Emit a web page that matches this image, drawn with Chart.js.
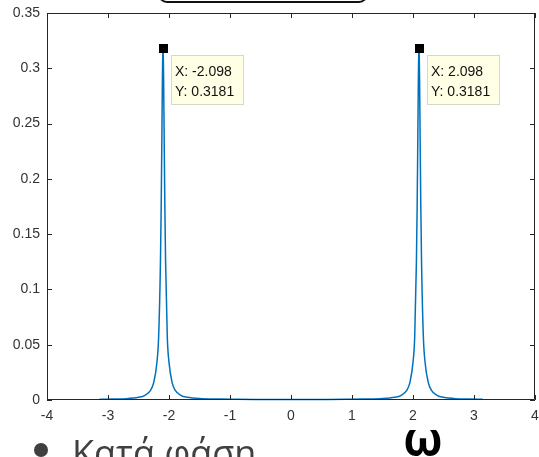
<!DOCTYPE html>
<html>
<head>
<meta charset="utf-8">
<script src="https://cdn.jsdelivr.net/npm/chart.js@4/dist/chart.umd.min.js"></script>
<style>
  body { margin: 0; background: #fff; width: 539px; height: 457px; overflow: hidden; position: relative; }
  #wrap { position: absolute; left: 0; top: 0; width: 539px; height: 457px; }
  .topbox { position: absolute; left: 158px; top: -30px; width: 206px; height: 29px; border: 2px solid #111; border-radius: 9px; }
  .bullet { position: absolute; left: 34px; top: 443px; width: 14px; height: 14px; border-radius: 50%; background: #404040; }
  .txt { position: absolute; left: 72px; top: 428px; font: 36px "Open Sans", "Noto Sans", sans-serif; color: #404040; white-space: nowrap; }
  .omega { position: absolute; left: 403px; top: 407px; font: bold 46px "Noto Sans", "DejaVu Sans", sans-serif; color: #000; }
</style>
</head>
<body>
<div id="wrap"><canvas id="c" width="539" height="457"></canvas></div>
<div class="topbox"></div>
<div class="bullet"></div>
<div class="txt">Κατά φάση</div>
<div class="omega">ω</div>
<script>
// frequency (rad/sample) and magnitude
const freq = [-3.1416, -2.9, -2.7, -2.5, -2.4, -2.3, -2.25, -2.2, -2.17, -2.14, -2.128, -2.118, -2.108, -2.103, -2.098,
  -2.093, -2.088, -2.078, -2.068, -2.056, -2.028, -2.0, -1.95, -1.9, -1.8, -1.7, -1.5, -1.2, -0.9, -0.6, -0.3, 0,
  0.3, 0.6, 0.9, 1.2, 1.5, 1.7, 1.8, 1.9, 1.95, 2.0, 2.028, 2.056, 2.068, 2.078, 2.088, 2.093, 2.098,
  2.103, 2.108, 2.118, 2.128, 2.14, 2.17, 2.2, 2.25, 2.3, 2.4, 2.5, 2.7, 2.9, 3.1416];
const mag = [0.0006, 0.0008, 0.0012, 0.0025, 0.004, 0.009, 0.016, 0.033, 0.057, 0.125, 0.175, 0.23, 0.29, 0.31, 0.3181,
  0.31, 0.29, 0.23, 0.175, 0.125, 0.057, 0.034, 0.016, 0.009, 0.004, 0.0025, 0.0013, 0.0008, 0.0006, 0.0005, 0.0005, 0.0005,
  0.0005, 0.0005, 0.0006, 0.0008, 0.0013, 0.0025, 0.004, 0.009, 0.016, 0.034, 0.057, 0.125, 0.175, 0.23, 0.29, 0.31, 0.3181,
  0.31, 0.29, 0.23, 0.175, 0.125, 0.057, 0.033, 0.016, 0.009, 0.004, 0.0025, 0.0012, 0.0008, 0.0006];

// data tips
const tipX = [-2.098, 2.098];
const tipY = [0.3181, 0.3181];
const tipXLabels = ['X: -2.098', 'X: 2.098'];
const tipYLabels = ['Y: 0.3181', 'Y: 0.3181'];

const xTicks = [-4, -3, -2, -1, 0, 1, 2, 3, 4];
const yTicks = [0, 0.05, 0.1, 0.15, 0.2, 0.25, 0.3, 0.35];

const points = freq.map((f, i) => ({ x: f, y: mag[i] }));

// box, inward ticks, data tips
const matlabAxes = {
  id: 'matlabAxes',
  afterDatasetsDraw(chart) {
    const { ctx, chartArea: a, scales: { x, y } } = chart;
    ctx.save();
    ctx.strokeStyle = '#262626';
    ctx.lineWidth = 1;
    ctx.beginPath();
    ctx.rect(a.left + 0.5, a.top + 0.5, a.right - a.left - 1, a.bottom - a.top - 1);
    xTicks.forEach(v => {
      const px = Math.round(x.getPixelForValue(v)) + 0.5;
      ctx.moveTo(px, a.bottom); ctx.lineTo(px, a.bottom - 5);
      ctx.moveTo(px, a.top); ctx.lineTo(px, a.top + 5);
    });
    yTicks.forEach(v => {
      const py = Math.round(y.getPixelForValue(v)) + 0.5;
      ctx.moveTo(a.left, py); ctx.lineTo(a.left + 5, py);
      ctx.moveTo(a.right, py); ctx.lineTo(a.right - 5, py);
    });
    ctx.stroke();

    tipX.forEach((tx, i) => {
      const px = Math.round(x.getPixelForValue(tx));
      const py = Math.round(y.getPixelForValue(tipY[i]));
      ctx.fillStyle = '#000';
      ctx.fillRect(px - 4, py - 4, 9, 9);
      const bx = px + 8, by = py + 7;
      ctx.fillStyle = '#ffffe6';
      ctx.fillRect(bx, by, 73, 50);
      ctx.strokeStyle = '#d8d8c8';
      ctx.strokeRect(bx + 0.5, by + 0.5, 72, 49);
      ctx.fillStyle = '#111';
      ctx.font = '14px "Liberation Sans", Arial, sans-serif';
      ctx.textBaseline = 'alphabetic';
      ctx.fillText(tipXLabels[i], bx + 4, by + 21);
      ctx.fillText(tipYLabels[i], bx + 4, by + 41);
    });
    ctx.restore();
  }
};

new Chart(document.getElementById('c'), {
  type: 'scatter',
  data: {
    datasets: [{
      data: points,
      showLine: true,
      borderColor: '#0072BD',
      borderWidth: 1.5,
      pointRadius: 0,
      cubicInterpolationMode: 'monotone',
      clip: false
    }]
  },
  options: {
    responsive: false,
    animation: false,
    layout: { padding: { top: 13, right: 4, bottom: 33, left: 0 } },
    plugins: { legend: { display: false }, tooltip: { enabled: false } },
    scales: {
      x: {
        type: 'linear', min: -4, max: 4,
        afterBuildTicks: s => { s.ticks = xTicks.map(v => ({ value: v })); },
        afterFit: s => { s.height = 24; s.paddingLeft = 0; s.paddingRight = 0; },
        grid: { display: false, drawTicks: false, tickLength: 0 },
        border: { display: false },
        ticks: { padding: 8, color: '#333', font: { family: '"Liberation Sans", Arial, sans-serif', size: 14 }, maxRotation: 0, callback: v => String(v) }
      },
      y: {
        type: 'linear', min: 0, max: 0.35,
        afterBuildTicks: s => { s.ticks = yTicks.map(v => ({ value: v })); },
        afterFit: s => { s.width = 47; s.paddingTop = 0; s.paddingBottom = 0; },
        grid: { display: false, drawTicks: false, tickLength: 0 },
        border: { display: false },
        ticks: { padding: 7, color: '#333', font: { family: '"Liberation Sans", Arial, sans-serif', size: 14 }, callback: v => String(Math.round(v * 100) / 100) }
      }
    }
  },
  plugins: [matlabAxes]
});
</script>
</body>
</html>
